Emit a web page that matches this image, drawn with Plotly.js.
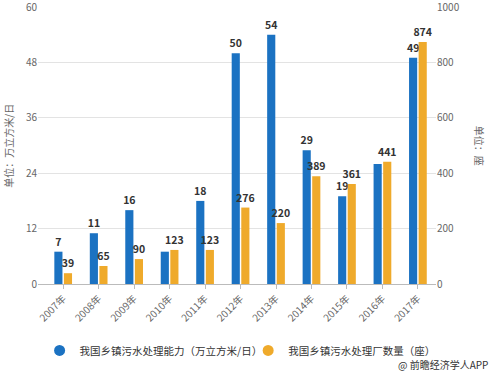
<!DOCTYPE html>
<html><head><meta charset="utf-8">
<script src="https://cdn.plot.ly/plotly-3.0.1.min.js"></script>
<style>body{margin:0;background:#fff}#c{width:491px;height:373px}</style>
</head><body><div id="c"></div>
<script>
const years = ["2007年","2008年","2009年","2010年","2011年","2012年","2013年","2014年","2015年","2016年","2017年"];
const capacity = [7, 11, 16, 7, 18, 50, 54, 29, 19, 26, 49];
const capacityLabels = ["7","11","16","","18","50","54","29","19","","49"];
const plants = [39, 65, 90, 123, 123, 276, 220, 389, 361, 441, 874];
const plantLabels = ["39","65","90","123","123","276","220","389","361","441","874"];
const seriesNames = ["我国乡镇污水处理能力（万立方米/日）","我国乡镇污水处理厂数量（座）"];
const leftTitle = "单位：万立方米/日";
const rightTitle = "单位：座";
const credit = "@ 前瞻经济学人APP";

const font = "'Noto Sans CJK SC', 'Noto Sans', sans-serif";
const blue = '#1b72c2', gold = '#efaa2b';
const data = [
  {type:'bar', x:years, y:capacity, name:seriesNames[0], marker:{color:blue},
   text:capacityLabels, textposition:'outside', cliponaxis:false, constraintext:'none',
   textfont:{size:10.5,color:'#333',family:font,weight:'bold'}, offsetgroup:'a', showlegend:false},
  {type:'bar', x:years, y:plants, name:seriesNames[1], yaxis:'y2', marker:{color:gold},
   text:plantLabels, textposition:'outside', cliponaxis:false, constraintext:'none',
   textfont:{size:10.5,color:'#333',family:font,weight:'bold'}, offsetgroup:'b', showlegend:false},
  {type:'scatter', mode:'markers', x:[null], y:[null], name:seriesNames[0], legend:'legend',
   marker:{symbol:'circle', size:11, color:blue}},
  {type:'scatter', mode:'markers', x:[null], y:[null], name:seriesNames[1], legend:'legend2',
   marker:{symbol:'circle', size:11, color:gold}}
];
const legendBase = {orientation:'h', y:-0.24, yanchor:'middle', xanchor:'left',
                    font:{size:10.5,color:'#333'}, itemwidth:30, bgcolor:'rgba(0,0,0,0)'};
const layout = {
  width:491, height:373,
  margin:{l:38, r:55, t:7, b:89},
  paper_bgcolor:'#fff', plot_bgcolor:'#fff',
  font:{family:font, size:10, color:'#666'},
  barmode:'group', bargap:0.46, bargroupgap:0.15,
  showlegend:true,
  legend:Object.assign({}, legendBase, {x:0.004}),
  legend2:Object.assign({}, legendBase, {x:0.528}),
  xaxis:{range:[-0.71,10.51], tickangle:-45, showgrid:false, ticks:'outside', ticklen:4,
         tickcolor:'#bbb', showline:true, linecolor:'#bbb', tickfont:{size:10,color:'#666'}},
  yaxis:{range:[0,60.01], tickvals:[0,12,24,36,48,60], gridcolor:'#e3e3e3', zeroline:false,
         showline:false, tickfont:{size:10,color:'#666'}, ticks:'', automargin:false,
         ticklabeloverflow:'allow'},
  yaxis2:{range:[0,1000.2], tickvals:[0,200,400,600,800,1000], overlaying:'y', side:'right',
          showgrid:false, zeroline:false, tickfont:{size:10,color:'#666'}, automargin:false,
          ticklabeloverflow:'allow'},
  annotations:[
    {text:leftTitle, xref:'paper', yref:'paper', x:-0.075, y:0.5, xanchor:'center', yanchor:'middle',
     textangle:-90, showarrow:false, font:{size:10,color:'#666'}},
    {text:rightTitle, xref:'paper', yref:'paper', x:1.11, y:0.5, xanchor:'center', yanchor:'middle',
     textangle:90, showarrow:false, font:{size:10,color:'#666'}},
    {text:credit, xref:'paper', yref:'paper', x:1.135, y:-0.29, xanchor:'right', yanchor:'middle',
     showarrow:false, font:{size:10,color:'#333'}}
  ]
};
Plotly.newPlot('c', data, layout, {displayModeBar:false});
</script></body></html>
